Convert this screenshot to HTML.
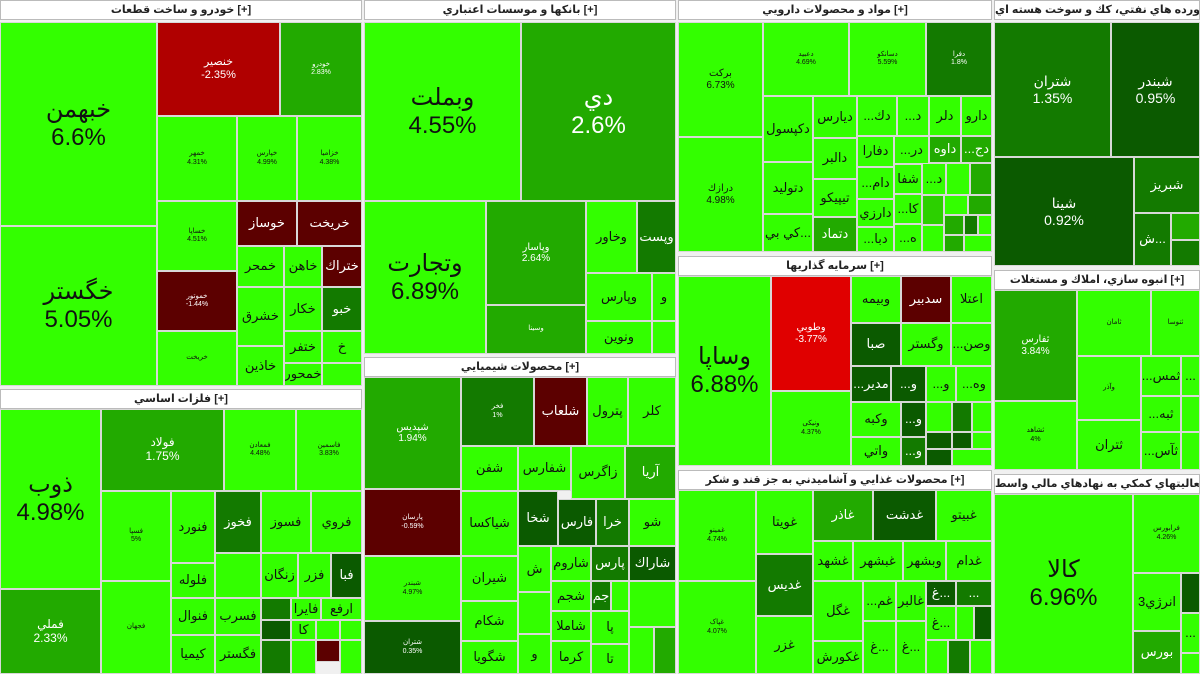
<!DOCTYPE html>
<html><head><meta charset="utf-8"><style>
body{margin:0;width:1200px;height:674px;background:#f0f0f0;position:relative;overflow:hidden;font-family:"Liberation Sans","DejaVu Sans",sans-serif}
.t{position:absolute;box-sizing:border-box;border:1px solid #d8d8d8;display:flex;flex-direction:column;align-items:center;justify-content:center;text-align:center;line-height:1.15;overflow:hidden;color:#111;font-size:13px;white-space:nowrap}
.h{position:absolute;box-sizing:border-box;background:#fff;border:1px solid #bbb;font-size:11px;font-weight:bold;color:#222;text-align:center;line-height:18px;height:20px;overflow:hidden;white-space:nowrap}
.g{background:#33ff00}.m{background:#22aa00;color:#fff}.d{background:#137a00;color:#fff}.k{background:#0b5a00;color:#fff}.r{background:#b00000;color:#fff}.rr{background:#e00000;color:#fff}.x{background:#5c0000;color:#fff}
.L{font-size:24px}.M{font-size:14px}.S{font-size:7px}
</style></head><body>
<!-- sector 1 -->
<div class="h" style="left:0;top:0;width:362px">خودرو و ساخت قطعات [+]</div>
<div class="t g L" style="left:0;top:22px;width:157px;height:204px">خبهمن<br>6.6%</div>
<div class="t g L" style="left:0;top:226px;width:157px;height:160px">خگستر<br>5.05%</div>
<div class="t r" style="left:157px;top:22px;width:123px;height:94px;font-size:11px">خنصير<br>-2.35%</div>
<div class="t m S" style="left:280px;top:22px;width:82px;height:94px">خودرو<br>2.83%</div>
<div class="t g S" style="left:157px;top:116px;width:80px;height:85px">خمهر<br>4.31%</div>
<div class="t g S" style="left:237px;top:116px;width:60px;height:85px">خپارس<br>4.99%</div>
<div class="t g S" style="left:297px;top:116px;width:65px;height:85px">خزامیا<br>4.38%</div>
<div class="t g S" style="left:157px;top:201px;width:80px;height:70px">خساپا<br>4.51%</div>
<div class="t x S" style="left:157px;top:271px;width:80px;height:60px">خموتور<br>-1.44%</div>
<div class="t g S" style="left:157px;top:331px;width:80px;height:55px">خريخت</div>
<div class="t x" style="left:237px;top:201px;width:60px;height:45px">خوساز</div>
<div class="t x" style="left:297px;top:201px;width:65px;height:45px">خريخت</div>
<div class="t g" style="left:237px;top:246px;width:47px;height:41px">خمحر</div>
<div class="t g" style="left:284px;top:246px;width:38px;height:41px">خاهن</div>
<div class="t x" style="left:322px;top:246px;width:40px;height:41px">ختراك</div>
<div class="t g" style="left:237px;top:287px;width:47px;height:59px">خشرق</div>
<div class="t g" style="left:284px;top:287px;width:38px;height:44px">خكار</div>
<div class="t d" style="left:322px;top:287px;width:40px;height:44px">خبو</div>
<div class="t g" style="left:237px;top:346px;width:47px;height:40px">خاذين</div>
<div class="t g" style="left:284px;top:331px;width:38px;height:32px">ختفر</div>
<div class="t g" style="left:322px;top:331px;width:40px;height:32px">خ</div>
<div class="t g" style="left:284px;top:363px;width:38px;height:23px">خمحور</div>
<div class="t g" style="left:322px;top:363px;width:40px;height:23px"></div>
<!-- sector 8 -->
<div class="h" style="left:0;top:389px;width:362px">فلزات اساسي [+]</div>
<div class="t g L" style="left:0;top:409px;width:101px;height:180px">ذوب<br>4.98%</div>
<div class="t m" style="left:0;top:589px;width:101px;height:85px;font-size:12px">فملي<br>2.33%</div>
<div class="t m" style="left:101px;top:409px;width:123px;height:82px;font-size:12px">فولاد<br>1.75%</div>
<div class="t g S" style="left:224px;top:409px;width:72px;height:82px">فمعادن<br>4.48%</div>
<div class="t g S" style="left:296px;top:409px;width:66px;height:82px">فاسمین<br>3.83%</div>
<div class="t g S" style="left:101px;top:491px;width:70px;height:90px">فسپا<br>5%</div>
<div class="t g S" style="left:101px;top:581px;width:70px;height:93px">فجهان</div>
<div class="t g" style="left:171px;top:491px;width:44px;height:72px">فنورد</div>
<div class="t g" style="left:171px;top:563px;width:44px;height:35px">فلوله</div>
<div class="t g" style="left:171px;top:598px;width:44px;height:37px">فنوال</div>
<div class="t g" style="left:171px;top:635px;width:44px;height:39px">كيميا</div>
<div class="t d" style="left:215px;top:491px;width:46px;height:62px">فخوز</div>
<div class="t g" style="left:215px;top:553px;width:46px;height:45px"></div>
<div class="t g" style="left:215px;top:598px;width:46px;height:37px">فسرب</div>
<div class="t g" style="left:215px;top:635px;width:46px;height:39px">فگستر</div>
<div class="t g" style="left:261px;top:491px;width:50px;height:62px">فسوز</div>
<div class="t g" style="left:311px;top:491px;width:51px;height:62px">فروي</div>
<div class="t g" style="left:261px;top:553px;width:37px;height:45px">زنگان</div>
<div class="t g" style="left:298px;top:553px;width:33px;height:45px">فزر</div>
<div class="t k" style="left:331px;top:553px;width:31px;height:45px">فبا</div>
<div class="t d" style="left:261px;top:598px;width:30px;height:22px"></div>
<div class="t g" style="left:291px;top:598px;width:30px;height:22px">فايرا</div>
<div class="t g" style="left:321px;top:598px;width:41px;height:22px">ارفع</div>
<div class="t k" style="left:261px;top:620px;width:30px;height:20px"></div>
<div class="t g" style="left:291px;top:620px;width:25px;height:20px">كا</div>
<div class="t g" style="left:316px;top:620px;width:24px;height:20px"></div>
<div class="t g" style="left:340px;top:620px;width:22px;height:20px"></div>
<div class="t d" style="left:261px;top:640px;width:30px;height:34px"></div>
<div class="t g" style="left:291px;top:640px;width:25px;height:34px"></div>
<div class="t x" style="left:316px;top:640px;width:24px;height:22px"></div>
<div class="t g" style="left:340px;top:640px;width:22px;height:34px"></div>
<!-- sector 2 -->
<div class="h" style="left:364px;top:0;width:312px">بانکها و موسسات اعتباري [+]</div>
<div class="t g L" style="left:364px;top:22px;width:157px;height:179px">وبملت<br>4.55%</div>
<div class="t m L" style="left:521px;top:22px;width:155px;height:179px">دي<br>2.6%</div>
<div class="t g L" style="left:364px;top:201px;width:122px;height:153px">وتجارت<br>6.89%</div>
<div class="t m" style="left:486px;top:201px;width:100px;height:104px;font-size:10px">وپاسار<br>2.64%</div>
<div class="t m S" style="left:486px;top:305px;width:100px;height:49px">وسینا</div>
<div class="t g" style="left:586px;top:201px;width:51px;height:72px">وخاور</div>
<div class="t d" style="left:637px;top:201px;width:39px;height:72px">وپست</div>
<div class="t g" style="left:586px;top:273px;width:66px;height:48px">وپارس</div>
<div class="t g" style="left:652px;top:273px;width:24px;height:48px">و</div>
<div class="t g" style="left:586px;top:321px;width:66px;height:33px">ونوين</div>
<div class="t g" style="left:652px;top:321px;width:24px;height:33px"></div>
<!-- sector 7 -->
<div class="h" style="left:364px;top:357px;width:312px">محصولات شيميايي [+]</div>
<div class="t m" style="left:364px;top:377px;width:97px;height:112px;font-size:10px">شپديس<br>1.94%</div>
<div class="t x S" style="left:364px;top:489px;width:97px;height:67px">پارسان<br>-0.59%</div>
<div class="t g S" style="left:364px;top:556px;width:97px;height:65px">شبندر<br>4.97%</div>
<div class="t k S" style="left:364px;top:621px;width:97px;height:53px">شتران<br>0.35%</div>
<div class="t d S" style="left:461px;top:377px;width:73px;height:69px">فخر<br>1%</div>
<div class="t x" style="left:534px;top:377px;width:53px;height:69px">شلعاب</div>
<div class="t g" style="left:587px;top:377px;width:41px;height:69px">پترول</div>
<div class="t g" style="left:628px;top:377px;width:48px;height:69px">كلر</div>
<div class="t g" style="left:461px;top:446px;width:57px;height:45px">شفن</div>
<div class="t g" style="left:518px;top:446px;width:53px;height:45px">شفارس</div>
<div class="t g" style="left:571px;top:446px;width:54px;height:53px">زاگرس</div>
<div class="t m" style="left:625px;top:446px;width:51px;height:53px">آريا</div>
<div class="t g" style="left:461px;top:491px;width:57px;height:65px">شياكسا</div>
<div class="t k" style="left:518px;top:491px;width:40px;height:55px">شخا</div>
<div class="t k" style="left:558px;top:499px;width:38px;height:47px">فارس</div>
<div class="t d" style="left:596px;top:499px;width:33px;height:47px">خرا</div>
<div class="t g" style="left:629px;top:499px;width:47px;height:47px">شو</div>
<div class="t g" style="left:461px;top:556px;width:57px;height:45px">شيران</div>
<div class="t g" style="left:461px;top:601px;width:57px;height:40px">شكام</div>
<div class="t g" style="left:461px;top:641px;width:57px;height:33px">شگويا</div>
<div class="t g" style="left:518px;top:546px;width:33px;height:46px">ش</div>
<div class="t g" style="left:551px;top:546px;width:40px;height:35px">شاروم</div>
<div class="t d" style="left:591px;top:546px;width:38px;height:35px">پارس</div>
<div class="t k" style="left:629px;top:546px;width:47px;height:35px">شاراك</div>
<div class="t g" style="left:518px;top:592px;width:33px;height:42px"></div>
<div class="t g" style="left:518px;top:634px;width:33px;height:40px">و</div>
<div class="t g" style="left:551px;top:581px;width:40px;height:30px">شجم</div>
<div class="t g" style="left:551px;top:611px;width:40px;height:30px">شاملا</div>
<div class="t g" style="left:551px;top:641px;width:40px;height:33px">كرما</div>
<div class="t d" style="left:591px;top:581px;width:20px;height:30px">جم</div>
<div class="t g" style="left:611px;top:581px;width:18px;height:30px"></div>
<div class="t g" style="left:591px;top:611px;width:38px;height:33px">پا</div>
<div class="t g" style="left:591px;top:644px;width:38px;height:30px">تا</div>
<div class="t g" style="left:629px;top:581px;width:47px;height:46px"></div>
<div class="t g" style="left:629px;top:627px;width:25px;height:47px"></div>
<div class="t m" style="left:654px;top:627px;width:22px;height:47px"></div>
<!-- sector 3 -->
<div class="h" style="left:678px;top:0;width:314px">مواد و محصولات دارويي [+]</div>
<div class="t g" style="left:678px;top:22px;width:85px;height:115px;font-size:10px">بركت<br>6.73%</div>
<div class="t g" style="left:678px;top:137px;width:85px;height:115px;font-size:10px">درازك<br>4.98%</div>
<div class="t g S" style="left:763px;top:22px;width:86px;height:74px">دعبید<br>4.69%</div>
<div class="t g S" style="left:849px;top:22px;width:77px;height:74px">دسانکو<br>5.59%</div>
<div class="t d S" style="left:926px;top:22px;width:66px;height:74px">دفرا<br>1.8%</div>
<div class="t g" style="left:763px;top:96px;width:50px;height:66px">دكپسول</div>
<div class="t g" style="left:763px;top:162px;width:50px;height:52px">دتوليد</div>
<div class="t g" style="left:763px;top:214px;width:50px;height:38px">كي بي...</div>
<div class="t g" style="left:813px;top:96px;width:44px;height:42px">ديارس</div>
<div class="t g" style="left:813px;top:138px;width:44px;height:41px">دالبر</div>
<div class="t g" style="left:813px;top:179px;width:44px;height:38px">تيپيكو</div>
<div class="t m" style="left:813px;top:217px;width:44px;height:35px">دتماد</div>
<div class="t g" style="left:857px;top:96px;width:40px;height:40px">...دك</div>
<div class="t g" style="left:857px;top:136px;width:37px;height:31px">دفارا</div>
<div class="t g" style="left:857px;top:167px;width:37px;height:32px">...دام</div>
<div class="t g" style="left:857px;top:199px;width:37px;height:28px">دارزي</div>
<div class="t g" style="left:857px;top:227px;width:37px;height:25px">...دبا</div>
<div class="t g" style="left:897px;top:96px;width:32px;height:40px">...د</div>
<div class="t g" style="left:894px;top:136px;width:35px;height:28px">...در</div>
<div class="t g" style="left:894px;top:164px;width:28px;height:30px">شفا</div>
<div class="t g" style="left:894px;top:194px;width:28px;height:30px">...كا</div>
<div class="t g" style="left:894px;top:224px;width:28px;height:28px">...ه</div>
<div class="t g" style="left:929px;top:96px;width:32px;height:40px">دلر</div>
<div class="t m" style="left:929px;top:136px;width:32px;height:27px">داوه</div>
<div class="t m" style="left:961px;top:96px;width:31px;height:40px;background:#33ff00;color:#111">دارو</div>
<div class="t m" style="left:961px;top:136px;width:31px;height:27px">...دج</div>
<div class="t g" style="left:922px;top:163px;width:24px;height:32px">...د</div>
<div class="t g" style="left:946px;top:163px;width:24px;height:32px"></div>
<div class="t m" style="left:970px;top:163px;width:22px;height:32px"></div>
<div class="t m" style="left:922px;top:195px;width:22px;height:30px;background:#2cd000"></div>
<div class="t g" style="left:944px;top:195px;width:24px;height:20px"></div>
<div class="t m" style="left:968px;top:195px;width:24px;height:20px"></div>
<div class="t g" style="left:922px;top:225px;width:22px;height:27px"></div>
<div class="t m" style="left:944px;top:215px;width:20px;height:20px"></div>
<div class="t d" style="left:964px;top:215px;width:14px;height:20px"></div>
<div class="t g" style="left:978px;top:215px;width:14px;height:20px"></div>
<div class="t m" style="left:944px;top:235px;width:20px;height:17px"></div>
<div class="t g" style="left:964px;top:235px;width:28px;height:17px"></div>
<!-- sector 4 -->
<div class="h" style="left:994px;top:0;width:206px">فراورده هاي نفتي، كك و سوخت هسته اي [+]</div>
<div class="t d M" style="left:994px;top:22px;width:117px;height:135px">شتران<br>1.35%</div>
<div class="t k M" style="left:1111px;top:22px;width:89px;height:135px">شبندر<br>0.95%</div>
<div class="t k M" style="left:994px;top:157px;width:140px;height:109px">شينا<br>0.92%</div>
<div class="t d" style="left:1134px;top:157px;width:66px;height:56px">شبريز</div>
<div class="t d" style="left:1134px;top:213px;width:37px;height:53px">ش...</div>
<div class="t m" style="left:1171px;top:213px;width:29px;height:27px"></div>
<div class="t d" style="left:1171px;top:240px;width:29px;height:26px"></div>
<!-- sector 5 -->
<div class="h" style="left:678px;top:256px;width:314px">سرمايه گذاريها [+]</div>
<div class="t g L" style="left:678px;top:276px;width:93px;height:190px">وساپا<br>6.88%</div>
<div class="t rr" style="left:771px;top:276px;width:80px;height:115px;font-size:10px">وطوبي<br>-3.77%</div>
<div class="t g S" style="left:771px;top:391px;width:80px;height:75px">ونیکی<br>4.37%</div>
<div class="t g" style="left:851px;top:276px;width:50px;height:47px">وبيمه</div>
<div class="t x" style="left:901px;top:276px;width:50px;height:47px">سدبير</div>
<div class="t g" style="left:951px;top:276px;width:41px;height:47px">اعتلا</div>
<div class="t k" style="left:851px;top:323px;width:50px;height:43px">صبا</div>
<div class="t g" style="left:901px;top:323px;width:50px;height:43px">وگستر</div>
<div class="t g" style="left:951px;top:323px;width:41px;height:43px">...وصن</div>
<div class="t k" style="left:851px;top:366px;width:40px;height:36px">...مدير</div>
<div class="t k" style="left:891px;top:366px;width:35px;height:36px">...و</div>
<div class="t g" style="left:926px;top:366px;width:30px;height:36px">...و</div>
<div class="t g" style="left:956px;top:366px;width:36px;height:36px">...وه</div>
<div class="t g" style="left:851px;top:402px;width:50px;height:35px">وكبه</div>
<div class="t k" style="left:901px;top:402px;width:25px;height:35px">...و</div>
<div class="t g" style="left:926px;top:402px;width:26px;height:30px"></div>
<div class="t d" style="left:952px;top:402px;width:20px;height:30px"></div>
<div class="t g" style="left:972px;top:402px;width:20px;height:30px"></div>
<div class="t g" style="left:851px;top:437px;width:50px;height:29px">واتي</div>
<div class="t d" style="left:901px;top:437px;width:25px;height:29px">...و</div>
<div class="t k" style="left:926px;top:432px;width:26px;height:17px"></div>
<div class="t k" style="left:952px;top:432px;width:20px;height:17px"></div>
<div class="t g" style="left:972px;top:432px;width:20px;height:17px"></div>
<div class="t k" style="left:926px;top:449px;width:26px;height:17px"></div>
<div class="t g" style="left:952px;top:449px;width:40px;height:17px"></div>
<!-- sector 6 -->
<div class="h" style="left:994px;top:270px;width:206px">انبوه سازي، املاك و مستغلات [+]</div>
<div class="t m" style="left:994px;top:290px;width:83px;height:111px;font-size:10px">ثفارس<br>3.84%</div>
<div class="t g S" style="left:994px;top:401px;width:83px;height:69px">ثشاهد<br>4%</div>
<div class="t g S" style="left:1077px;top:290px;width:74px;height:66px">ثامان</div>
<div class="t g S" style="left:1151px;top:290px;width:49px;height:66px">ثنوسا</div>
<div class="t g S" style="left:1077px;top:356px;width:64px;height:64px">وآذر</div>
<div class="t g" style="left:1141px;top:356px;width:40px;height:40px">...ثمس</div>
<div class="t g" style="left:1181px;top:356px;width:19px;height:40px">...</div>
<div class="t g" style="left:1077px;top:420px;width:64px;height:50px">ثتران</div>
<div class="t g" style="left:1141px;top:396px;width:40px;height:36px">...ثبه</div>
<div class="t g" style="left:1181px;top:396px;width:19px;height:36px"></div>
<div class="t g" style="left:1141px;top:432px;width:40px;height:38px">...ثآس</div>
<div class="t g" style="left:1181px;top:432px;width:19px;height:38px"></div>
<!-- sector 9 -->
<div class="h" style="left:678px;top:470px;width:314px">محصولات غذايي و آشاميدني به جز قند و شكر [+]</div>
<div class="t g S" style="left:678px;top:490px;width:78px;height:91px">غمینو<br>4.74%</div>
<div class="t g S" style="left:678px;top:581px;width:78px;height:93px">غپاک<br>4.07%</div>
<div class="t g" style="left:756px;top:490px;width:57px;height:64px">غويتا</div>
<div class="t d" style="left:756px;top:554px;width:57px;height:62px">غديس</div>
<div class="t g" style="left:756px;top:616px;width:57px;height:58px">غزر</div>
<div class="t m" style="left:813px;top:490px;width:60px;height:51px">غاذر</div>
<div class="t k" style="left:873px;top:490px;width:63px;height:51px">غدشت</div>
<div class="t g" style="left:936px;top:490px;width:56px;height:51px">غبيتو</div>
<div class="t g" style="left:813px;top:541px;width:40px;height:40px">غشهد</div>
<div class="t g" style="left:853px;top:541px;width:50px;height:40px">غبشهر</div>
<div class="t g" style="left:903px;top:541px;width:43px;height:40px">وبشهر</div>
<div class="t g" style="left:946px;top:541px;width:46px;height:40px">غدام</div>
<div class="t g" style="left:813px;top:581px;width:50px;height:60px">غگل</div>
<div class="t g" style="left:813px;top:641px;width:50px;height:33px">غكورش</div>
<div class="t g" style="left:863px;top:581px;width:33px;height:40px">...غم</div>
<div class="t g" style="left:863px;top:621px;width:33px;height:53px">غ...</div>
<div class="t g" style="left:896px;top:581px;width:30px;height:40px">غالبر</div>
<div class="t g" style="left:896px;top:621px;width:30px;height:53px">غ...</div>
<div class="t k" style="left:926px;top:581px;width:30px;height:25px">غ...</div>
<div class="t d" style="left:956px;top:581px;width:36px;height:25px">...</div>
<div class="t g" style="left:926px;top:606px;width:30px;height:34px">غ...</div>
<div class="t g" style="left:956px;top:606px;width:18px;height:34px"></div>
<div class="t k" style="left:974px;top:606px;width:18px;height:34px"></div>
<div class="t g" style="left:926px;top:640px;width:22px;height:34px"></div>
<div class="t d" style="left:948px;top:640px;width:22px;height:34px"></div>
<div class="t g" style="left:970px;top:640px;width:22px;height:34px"></div>
<!-- sector 10 -->
<div class="h" style="left:994px;top:474px;width:206px">فعاليتهاي كمكي به نهادهاي مالي واسط [+]</div>
<div class="t g L" style="left:994px;top:494px;width:139px;height:180px">كالا<br>6.96%</div>
<div class="t g S" style="left:1133px;top:494px;width:67px;height:79px">فرابورس<br>4.26%</div>
<div class="t g" style="left:1133px;top:573px;width:48px;height:58px">انرژي3</div>
<div class="t k" style="left:1181px;top:573px;width:19px;height:40px"></div>
<div class="t g" style="left:1181px;top:613px;width:19px;height:40px">...</div>
<div class="t m" style="left:1133px;top:631px;width:48px;height:43px">بورس</div>
<div class="t g" style="left:1181px;top:653px;width:19px;height:21px"></div>
</body></html>
